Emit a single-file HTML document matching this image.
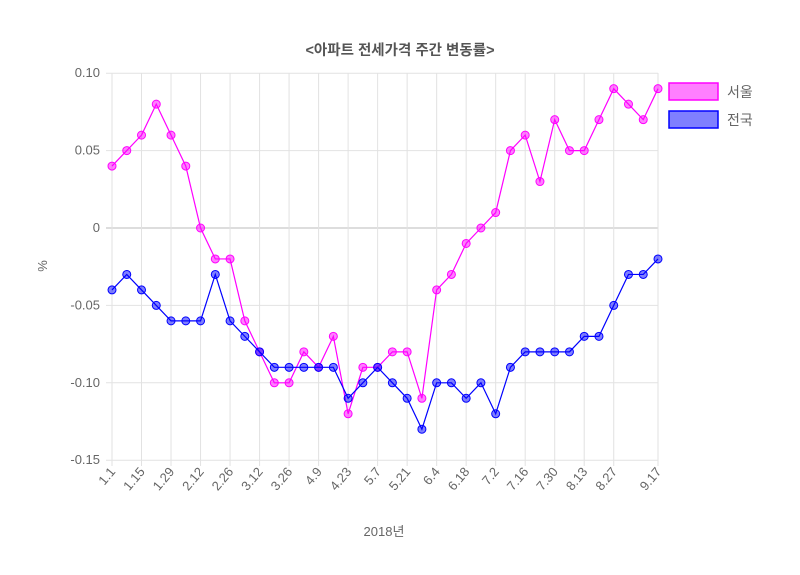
<!DOCTYPE html>
<html><head><meta charset="utf-8"><style>
body{margin:0;background:#fff}
svg{display:block;font-family:"Liberation Sans","Noto Sans CJK KR",sans-serif}
</style></head><body>
<svg id="s" width="800" height="575" xmlns="http://www.w3.org/2000/svg">
<rect width="800" height="575" fill="#fff"/>
<text x="400" y="55" text-anchor="middle" font-size="14.5" font-weight="bold" fill="#555">&lt;아파트 전세가격 주간 변동률&gt;</text>
<g id="grid"></g>
<g id="lines"></g>
<text x="384" y="536" text-anchor="middle" font-size="13" fill="#666">2018년</text>
<text transform="translate(47,266) rotate(-90)" text-anchor="middle" font-size="13" fill="#666">%</text>
<rect x="669" y="83" width="49" height="17" fill="rgba(255,0,255,0.5)" stroke="#f0f" stroke-width="1.5"/>
<text x="727" y="97" font-size="14" fill="#666">서울</text>
<rect x="669" y="111" width="49" height="17" fill="rgba(0,0,255,0.5)" stroke="#00f" stroke-width="1.5"/>
<text x="727" y="125" font-size="14" fill="#666">전국</text>
</svg>
<script>
var seoul=[.04,.05,.06,.08,.06,.04,0,-.02,-.02,-.06,-.08,-.10,-.10,-.08,-.09,-.07,-.12,-.09,-.09,-.08,-.08,-.11,-.04,-.03,-.01,0,.01,.05,.06,.03,.07,.05,.05,.07,.09,.08,.07,.09];
var nat=[-.04,-.03,-.04,-.05,-.06,-.06,-.06,-.03,-.06,-.07,-.08,-.09,-.09,-.09,-.09,-.09,-.11,-.10,-.09,-.10,-.11,-.13,-.10,-.10,-.11,-.10,-.12,-.09,-.08,-.08,-.08,-.08,-.07,-.07,-.05,-.03,-.03,-.02];
var x0=112,x1=658,n=38,dx=(x1-x0)/(n-1);
function Y(v){return 228-v*1548}
var g='',l='';
var yt=[.1,.05,0,-.05,-.1,-.15],yl=['0.10','0.05','0','-0.05','-0.10','-0.15'];
yt.forEach(function(v,i){var y=Y(v);g+='<line x1="'+(x0-6)+'" x2="'+x1+'" y1="'+y+'" y2="'+y+'" stroke="'+(v==0?'#bbb':'#e2e2e2')+'"/>';
g+='<text x="'+(x0-12)+'" y="'+(y+4)+'" text-anchor="end" font-size="13" fill="#666">'+yl[i]+'</text>';});
var labs=['1.1','1.15','1.29','2.12','2.26','3.12','3.26','4.9','4.23','5.7','5.21','6.4','6.18','7.2','7.16','7.30','8.13','8.27'];
for(var i=0;i<n;i++){var x=x0+i*dx,lab=null;
 if(i%2==0&&i<36)lab=labs[i/2];if(i==37)lab='9.17';
 if(lab){g+='<line x1="'+x+'" x2="'+x+'" y1="73" y2="466" stroke="#e2e2e2"/>';
 g+='<text transform="translate('+(x+4)+',472) rotate(-50)" text-anchor="end" font-size="13" fill="#666">'+lab+'</text>';}}
function series(d,c,f){var p=d.map(function(v,i){return (x0+i*dx)+','+Y(v)}).join(' ');
 l+='<polyline points="'+p+'" fill="none" stroke="'+c+'" stroke-width="1.2"/>';
 d.forEach(function(v,i){l+='<circle cx="'+(x0+i*dx)+'" cy="'+Y(v)+'" r="4" fill="'+f+'" stroke="'+c+'" stroke-width="1"/>';});}
series(seoul,'#f0f','rgba(255,0,255,0.5)');
series(nat,'#00f','rgba(0,0,255,0.5)');
document.getElementById('grid').innerHTML=g;
document.getElementById('lines').innerHTML=l;
</script>
</body></html>
